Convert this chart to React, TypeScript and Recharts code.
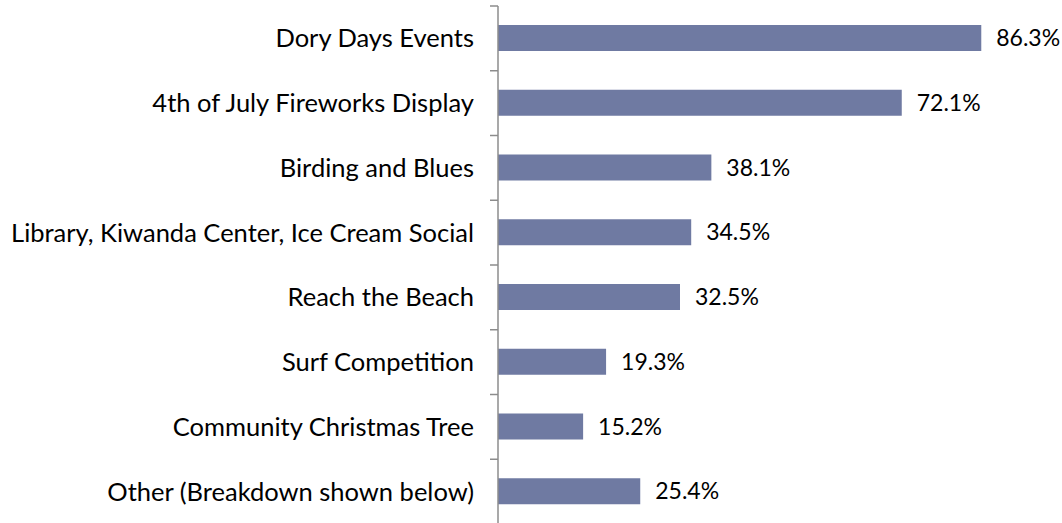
import { Bar, BarChart, LabelList, XAxis, YAxis } from "recharts";

const categories = [
  "Dory Days Events",
  "4th of July Fireworks Display",
  "Birding and Blues",
  "Library, Kiwanda Center, Ice Cream Social",
  "Reach the Beach",
  "Surf Competition",
  "Community Christmas Tree",
  "Other (Breakdown shown below)",
];

const shares = [86.3, 72.1, 38.1, 34.5, 32.5, 19.3, 15.2, 25.4];

const data = categories.map((name, i) => ({ name, share: shares[i] }));

const font = "Lato, 'Open Sans', sans-serif";
const axisColor = "#8c8c8c";
const axisWidth = 498;
const chartHeight = 524;
const marginTop = 6;
const bandHalf = (chartHeight - marginTop) / categories.length / 2;

// label plus the small tick marks that sit on the band edges
function EdgeTick(props: any) {
  const { x, y, payload, index } = props;
  const half = payload?.offset || bandHalf;
  const last = index === categories.length - 1;
  return (
    <g>
      <line x1={axisWidth - 8} x2={axisWidth} y1={y - half} y2={y - half} stroke={axisColor} strokeWidth={1.5} />
      {last ? (
        <line x1={axisWidth - 8} x2={axisWidth} y1={y + half} y2={y + half} stroke={axisColor} strokeWidth={1.5} />
      ) : null}
      <text x={x} y={y} dy="0.355em" textAnchor="end" fill="#000" fontSize={25.5} fontFamily={font}>
        {payload.value}
      </text>
    </g>
  );
}

export default function App() {
  return (
    <div style={{ position: "absolute", left: 0, top: 0 }}>
      <BarChart
        width={1062}
        height={chartHeight}
        data={data}
        layout="vertical"
        margin={{ top: marginTop, right: 4, bottom: 0, left: 0 }}
      >
        <XAxis type="number" domain={[0, 100]} hide />
        <YAxis
          type="category"
          dataKey="name"
          width={axisWidth}
          axisLine={{ stroke: axisColor, strokeWidth: 1.5 }}
          tickLine={false}
          tickSize={6}
          tickMargin={18}
          tick={<EdgeTick />}
          interval={0}
        />
        <Bar dataKey="share" fill="#6f7aa2" barSize={26} isAnimationActive={false}>
          <LabelList
            dataKey="share"
            position="right"
            offset={15}
            formatter={(v: unknown) => `${Number(v).toFixed(1)}%`}
            style={{ fill: "#000", fontSize: 23, fontFamily: font }}
          />
        </Bar>
      </BarChart>
    </div>
  );
}
